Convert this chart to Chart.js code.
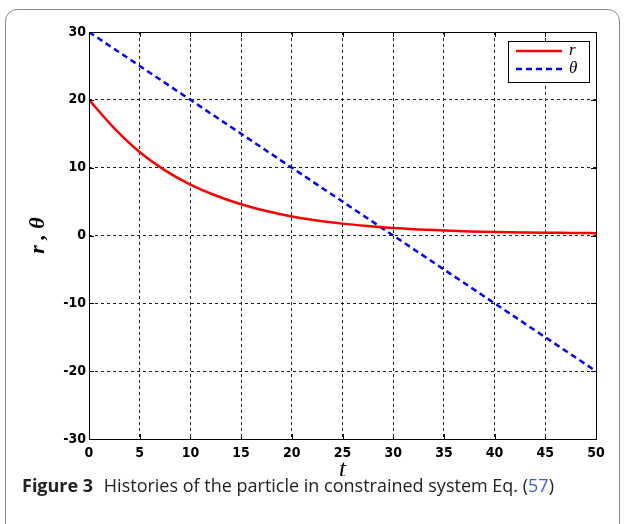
<!DOCTYPE html>
<html>
<head>
<meta charset="utf-8">
<script src="https://cdn.jsdelivr.net/npm/chart.js@4.4.1/dist/chart.umd.min.js"></script>
<style>
  html, body { margin: 0; padding: 0; background: #fff; }
  .card {
    position: absolute; left: 5px; top: 9px; width: 615px; height: 530px;
    border: 1px solid #8a8a8a; border-radius: 12px; box-sizing: border-box;
  }
  .chart-box { position: absolute; left: 0; top: 0; width: 624px; height: 476px; }
  .caption {
    position: absolute; left: 22px; top: 473px; white-space: nowrap;
    font-family: "Open Sans", "Noto Sans", sans-serif; font-size: 18px; color: #222;
  }
  .caption b { font-weight: 700; margin-right: 6px; }
  .caption .ref { color: #3a5fd0; }
</style>
</head>
<body>
<div class="card"></div>
<div class="chart-box"><canvas id="line-chart" width="624" height="476"></canvas></div>
<div class="caption"><b>Figure 3</b> Histories of the particle in constrained system Eq. (<span class="ref">57</span>)</div>

<script>
// time samples and the two histories
const tValues = [0, 2.5, 5, 7.5, 10, 12.5, 15, 17.5, 20, 22.5, 25, 27.5, 30, 32.5, 35, 37.5, 40, 42.5, 45, 47.5, 50];
const rValues = [20, 15.8, 12.3, 9.6, 7.5, 5.9, 4.6, 3.6, 2.8, 2.2, 1.75, 1.4, 1.1, 0.9, 0.75, 0.6, 0.5, 0.45, 0.4, 0.38, 0.35];
const thetaValues = [30, 27.5, 25, 22.5, 20, 17.5, 15, 12.5, 10, 7.5, 5, 2.5, 0, -2.5, -5, -7.5, -10, -12.5, -15, -17.5, -20];

const xTicks = [0, 5, 10, 15, 20, 25, 30, 35, 40, 45, 50];
const yTicks = [-30, -20, -10, 0, 10, 20, 30];

const seriesNames = ["r", "θ"];

const tickFont = { family: "'Liberation Sans Narrow', 'DejaVu Sans Condensed', 'Liberation Sans'", size: 14, weight: "bold" };

// matlab-like frame: box, inner ticks, axis titles and a boxed legend
const framePlugin = {
  id: "frame",
  afterDraw(chart) {
    const { ctx, chartArea: a, scales } = chart;
    ctx.save();
    ctx.strokeStyle = "#000";
    ctx.lineWidth = 1;
    ctx.setLineDash([]);
    ctx.strokeRect(a.left + 0.5, a.top + 0.5, a.right - a.left, a.bottom - a.top);

    const tl = 5;
    ctx.beginPath();
    xTicks.forEach(v => {
      const x = Math.round(scales.x.getPixelForValue(v)) + 0.5;
      ctx.moveTo(x, a.top); ctx.lineTo(x, a.top + tl);
      ctx.moveTo(x, a.bottom); ctx.lineTo(x, a.bottom - tl);
    });
    yTicks.forEach(v => {
      const y = Math.round(scales.y.getPixelForValue(v)) + 0.5;
      ctx.moveTo(a.left, y); ctx.lineTo(a.left + tl, y);
      ctx.moveTo(a.right, y); ctx.lineTo(a.right - tl, y);
    });
    ctx.stroke();

    // axis titles
    ctx.fillStyle = "#000";
    ctx.textAlign = "center";
    ctx.textBaseline = "middle";
    ctx.font = "italic 25px 'Liberation Serif', 'DejaVu Serif', serif";
    ctx.fillText("t", (a.left + a.right) / 2, 470);
    ctx.save();
    ctx.translate(38, (a.top + a.bottom) / 2);
    ctx.rotate(-Math.PI / 2);
    ctx.font = "italic bold 22px 'Liberation Serif', 'DejaVu Serif', serif";
    ctx.fillText("r , θ", 0, 0);
    ctx.restore();

    // legend
    const lx = 508, ly = 41, lw = 81, lh = 41;
    ctx.fillStyle = "#fff";
    ctx.fillRect(lx, ly, lw, lh);
    ctx.strokeStyle = "#000";
    ctx.lineWidth = 1;
    ctx.strokeRect(lx + 0.5, ly + 0.5, lw, lh);
    chart.data.datasets.forEach((ds, i) => {
      const y = ly + 10 + i * 18;
      ctx.strokeStyle = ds.borderColor;
      ctx.lineWidth = ds.borderWidth;
      ctx.setLineDash(ds.borderDash || []);
      ctx.beginPath();
      ctx.moveTo(lx + 8, y);
      ctx.lineTo(lx + 54, y);
      ctx.stroke();
      ctx.setLineDash([]);
      ctx.fillStyle = "#000";
      ctx.font = "italic 17px 'Liberation Serif', 'DejaVu Serif', serif";
      ctx.textAlign = "left";
      ctx.fillText(ds.label, lx + 61, y);
    });
    ctx.restore();
  }
};

const canvas = document.getElementById("line-chart");

new Chart(canvas, {
  type: "line",
  data: {
    datasets: [
      {
        label: seriesNames[0],
        data: tValues.map((t, i) => ({ x: t, y: rValues[i] })),
        borderColor: "#ff0000",
        borderWidth: 2.5,
        pointRadius: 0,
        cubicInterpolationMode: "monotone",
        fill: false,
      },
      {
        label: seriesNames[1],
        data: tValues.map((t, i) => ({ x: t, y: thetaValues[i] })),
        borderColor: "#0000ff",
        borderWidth: 2.5,
        borderDash: [6, 4],
        pointRadius: 0,
        fill: false,
      },
    ],
  },
  options: {
    responsive: false,
    animation: false,
    layout: { padding: { left: 0, right: 28, top: 32, bottom: 0 } },
    plugins: {
      legend: { display: false },
      tooltip: { enabled: false },
    },
    scales: {
      x: {
        type: "linear",
        min: 0,
        max: 50,
        afterFit: (scale) => { scale.height = 37; },
        afterBuildTicks: (scale) => { scale.ticks = xTicks.map(v => ({ value: v })); },
        grid: { color: "#222", lineWidth: 1, drawTicks: false },
        border: { display: false, dash: [3, 3] },
        ticks: { font: tickFont, color: "#000", padding: 6, maxRotation: 0 },
      },
      y: {
        type: "linear",
        min: -30,
        max: 30,
        afterFit: (scale) => { scale.width = 89; },
        afterBuildTicks: (scale) => { scale.ticks = yTicks.map(v => ({ value: v })); },
        grid: { color: "#222", lineWidth: 1, drawTicks: false },
        border: { display: false, dash: [3, 3] },
        ticks: { font: tickFont, color: "#000", padding: 3 },
      },
    },
  },
  plugins: [framePlugin],
});
</script>
</body>
</html>
